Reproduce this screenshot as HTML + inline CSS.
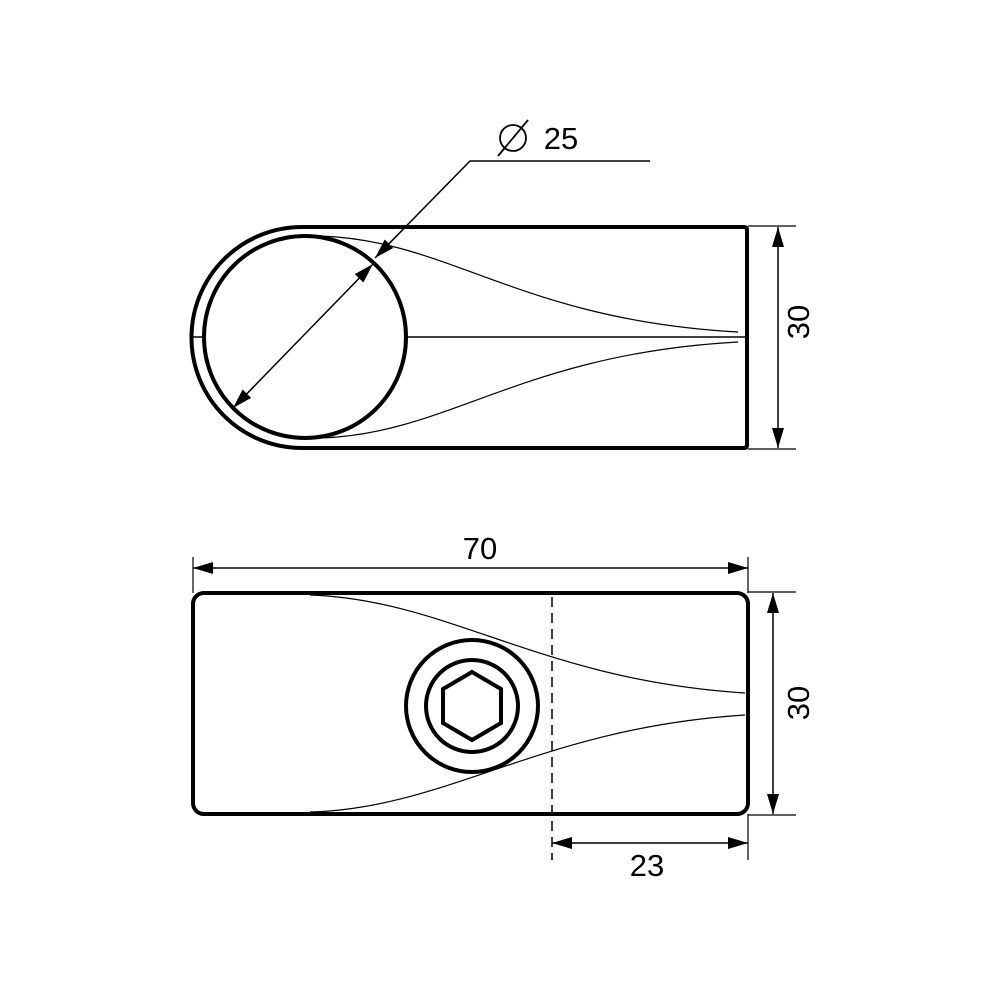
<!DOCTYPE html>
<html><head><style>body{margin:0;background:#fff}svg{display:block}</style></head><body>
<svg width="1000" height="1000" viewBox="0 0 1000 1000" xmlns="http://www.w3.org/2000/svg">
<defs>
<marker id="a" viewBox="0 0 20 12" refX="20" refY="6" markerWidth="20" markerHeight="12" markerUnits="userSpaceOnUse" orient="auto-start-reverse"><path d="M0,0 L20,6 L0,12 Z" fill="#000"/></marker>
</defs>
<g fill="none" stroke="#000">
<!-- top view -->
<path d="M744,227 Q747,227 747,230 L747,445 Q747,448 744,448 L302,448 A110.5,110.5 0 0 1 191.5,337.5 A110.5,110.5 0 0 1 302,227 Z" stroke-width="4"/>
<circle cx="305" cy="337" r="101" stroke-width="4"/>
<line x1="191" y1="337" x2="204" y2="337" stroke-width="1.5"/>
<line x1="406" y1="337" x2="745" y2="337" stroke-width="1.5"/>
<path d="M320,236 C450,240 520,320 738,332" stroke-width="1.2"/>
<path d="M320,438 C450,434 520,354 738,342" stroke-width="1.2"/>
<polyline points="650,161 470,161 375,258" stroke-width="1.5" marker-end="url(#a)"/>
<line x1="233" y1="408" x2="373" y2="264" stroke-width="1.5" marker-start="url(#a)" marker-end="url(#a)"/>
<line x1="748" y1="226" x2="796" y2="226" stroke-width="1.2"/>
<line x1="748" y1="449" x2="796" y2="449" stroke-width="1.2"/>
<line x1="778" y1="227" x2="778" y2="448" stroke-width="1.5" marker-start="url(#a)" marker-end="url(#a)"/>
<!-- bottom view -->
<rect x="193" y="593" width="555" height="221" rx="11" stroke-width="4"/>
<line x1="552" y1="597" x2="552" y2="860" stroke-width="1.5" stroke-dasharray="10,6"/>
<path d="M310,595 C450,600 540,680 745,693" stroke-width="1.2"/>
<path d="M310,812 C450,808 540,728 745,715" stroke-width="1.2"/>
<circle cx="472" cy="706" r="66" stroke-width="4"/>
<circle cx="472" cy="706" r="46" stroke-width="4"/>
<polygon points="472,672 501,689 501,723 472,740 443,723 443,689" stroke-width="4"/>
<line x1="193" y1="557" x2="193" y2="593" stroke-width="1.2"/>
<line x1="748" y1="557" x2="748" y2="593" stroke-width="1.2"/>
<line x1="193" y1="568" x2="748" y2="568" stroke-width="1.5" marker-start="url(#a)" marker-end="url(#a)"/>
<line x1="748" y1="592" x2="796" y2="592" stroke-width="1.2"/>
<line x1="748" y1="815" x2="796" y2="815" stroke-width="1.2"/>
<line x1="773" y1="593" x2="773" y2="814" stroke-width="1.5" marker-start="url(#a)" marker-end="url(#a)"/>
<line x1="748" y1="814" x2="748" y2="860" stroke-width="1.2"/>
<line x1="552" y1="843" x2="748" y2="843" stroke-width="1.5" marker-start="url(#a)" marker-end="url(#a)"/>
<!-- diameter symbol -->
<circle cx="513" cy="138" r="13" stroke-width="1.8"/>
<line x1="498" y1="156" x2="528" y2="120" stroke-width="1.8"/>
</g>
<g font-family="Liberation Sans, sans-serif" font-size="31" fill="#000" text-anchor="middle">
<text x="561" y="149">25</text>
<text x="480" y="559">70</text>
<text x="647" y="876">23</text>
<text transform="translate(809,322) rotate(-90)">30</text>
<text transform="translate(809,703) rotate(-90)">30</text>
</g>
</svg>
</body></html>
